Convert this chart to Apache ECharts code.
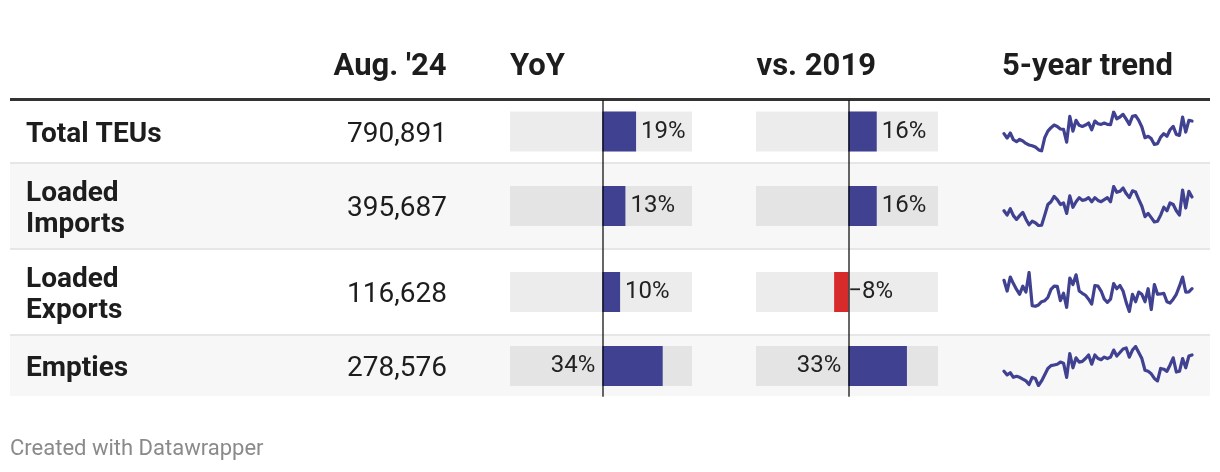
<!DOCTYPE html>
<html>
<head>
<meta charset="utf-8">
<script src="https://cdn.jsdelivr.net/npm/echarts@6/dist/echarts.min.js"></script>
<style>
  html, body { margin: 0; padding: 0; background: #ffffff; }
  #chart { width: 1220px; height: 472px; }
</style>
</head>
<body>
<div id="chart"></div>
<script>
// ---------------- DATA ----------------
const headers = ["Aug. '24", 'YoY', 'vs. 2019', '5-year trend'];
const rowNames = ['Total TEUs', 'Loaded Imports', 'Loaded Exports', 'Empties'];
const aug24 = [790891, 395687, 116628, 278576];
const yoy = [19, 13, 10, 34];          // % change year over year
const vs2019 = [16, 16, -8, 33];       // % change vs. Aug. 2019
// Monthly TEUs (thousands), Aug. 2019 – Aug. 2024, read from the sparklines
const trendTotal = [688,652,693,638,622,641,628,608,595,589,579,557,546,655,709,737,758,747,726,723,619,829,709,797,756,747,758,775,720,791,769,764,775,764,761,865,810,824,846,807,764,829,835,797,742,655,666,647,600,606,660,688,666,720,747,682,674,824,701,797,790.9];
const trendImports = [341,324,349,322,307,322,335,308,286,300,294,283,284,324,366,377,398,385,366,372,331,400,355,377,393,382,385,393,377,393,382,377,385,393,377,437,414,418,431,409,393,420,415,386,359,318,331,314,297,300,324,355,341,372,366,341,324,423,352,418,395.7];
const trendExports = [126.8,113.8,130.7,122.8,115.8,109.9,119.7,112.6,136.2,96.2,95.4,97.0,100.9,102.1,106.0,115.8,119.7,119.5,102.1,111.1,94.2,129.5,121.7,133.4,113.8,111.1,108.7,104.0,98.1,120.5,119.7,113.8,104.0,100.1,104.0,122.8,116.6,120.5,113.8,100.1,89.1,109.9,100.9,112.6,109.9,100.9,116.6,91.5,121.7,109.9,110.3,111.1,100.9,99.3,104.0,109.9,119.7,130.7,112.6,112.9,116.6];
const trendEmpties = [209.5,194.5,203.5,183.9,188.5,184.3,176.4,168.9,153.9,183.9,179.4,149.4,168.9,194.5,221.5,233.5,236.5,239.5,248.5,244.0,183.9,284.6,224.5,266.6,248.5,251.5,263.6,278.6,239.5,278.6,263.6,259.0,269.6,263.6,269.6,299.6,274.1,289.1,304.1,308.6,269.6,299.6,314.6,289.1,263.6,214.0,209.5,199.0,179.4,168.9,221.5,218.5,209.5,236.5,266.6,206.5,209.5,263.6,224.5,274.1,278.6];
const trends = [trendTotal, trendImports, trendExports, trendEmpties];
const footer = 'Created with Datawrapper';

// month labels for the trend axis
const monthNames = ['Jan','Feb','Mar','Apr','May','Jun','Jul','Aug','Sep','Oct','Nov','Dec'];
const months = [];
for (let y = 2019, m = 7; months.length < trendTotal.length; m++) {
  if (m === 12) { m = 0; y++; }
  months.push(monthNames[m] + ' ' + y);
}

// ---------------- LAYOUT ----------------
const FONT = 'Roboto';
const TEXT = '#1d1d1d';
const BLUE = '#404191';
const RED = '#d62a2b';
const ROWS = [[101, 162], [164, 248], [250, 334], [336, 396]];
const centers = ROWS.map(r => (r[0] + r[1]) / 2);
const barCols = [{ left: 510, values: yoy }, { left: 756, values: vs2019 }];
const BAR_W = 182, X_MIN = -52, X_MAX = 50.5;

const grid = [], xAxis = [], yAxis = [], series = [];
function addGrid(g) { grid.push(Object.assign({ outerBoundsMode: 'none', containLabel: false }, g)); return grid.length - 1; }

const fmtPct = v => (v < 0 ? '\u2212' + Math.abs(v) : '' + v) + '%';

barCols.forEach(col => {
  // bars, one grid per row
  ROWS.forEach((r, i) => {
    const gi = addGrid({ left: col.left, top: centers[i] - 20, width: BAR_W, height: 40 });
    xAxis.push({ type: 'value', gridIndex: gi, min: X_MIN, max: X_MAX, show: false });
    yAxis.push({ type: 'category', gridIndex: gi, data: [rowNames[i]], show: false });
    const v = col.values[i];
    const pos = v >= 30 ? 'left' : 'right';
    series.push({
      type: 'bar', xAxisIndex: xAxis.length - 1, yAxisIndex: yAxis.length - 1,
      data: [v], barWidth: '100%', z: 2,
      showBackground: true,
      backgroundStyle: { color: 'rgba(0,0,0,0.075)' },
      itemStyle: { color: v < 0 ? RED : BLUE },
      label: {
        show: true, position: pos, distance: v < 0 ? 0 : (pos === 'left' ? 7 : 5),
        formatter: p => fmtPct(p.value),
        fontFamily: FONT, fontSize: 24, color: '#222'
      }
    });
  });
  // zero line frame spanning all rows
  const gf = addGrid({ left: col.left, top: ROWS[0][0], width: BAR_W, height: ROWS[3][1] - ROWS[0][0] });
  xAxis.push({ type: 'value', gridIndex: gf, min: X_MIN, max: X_MAX, show: false });
  yAxis.push({
    type: 'category', gridIndex: gf, data: ['zero'], z: 10,
    axisLine: { show: true, onZero: true, lineStyle: { color: 'rgba(0,0,0,0.6)', width: 2 } },
    axisTick: { show: false }, axisLabel: { show: false }, splitLine: { show: false }
  });
  series.push({ type: 'bar', xAxisIndex: xAxis.length - 1, yAxisIndex: yAxis.length - 1, data: [], silent: true });
});

// sparklines
trends.forEach((t, i) => {
  const gi = addGrid({ left: 1004, top: centers[i] - 19.5, width: 188, height: 39 });
  xAxis.push({ type: 'category', gridIndex: gi, data: months, boundaryGap: false, show: false });
  yAxis.push({ type: 'value', gridIndex: gi, min: e => e.min, max: e => e.max, show: false });
  series.push({
    type: 'line', xAxisIndex: xAxis.length - 1, yAxisIndex: yAxis.length - 1,
    data: t, symbol: 'none', silent: true,
    lineStyle: { color: BLUE, width: 3.2, join: 'round', cap: 'round' }
  });
});

// table decoration and text
const graphic = [];
graphic.push({ type: 'rect', shape: { x: 10, y: 164, width: 1200, height: 84 }, style: { fill: '#f7f7f7' }, z: -10 });
graphic.push({ type: 'rect', shape: { x: 10, y: 336, width: 1200, height: 60 }, style: { fill: '#f7f7f7' }, z: -10 });
[162, 248, 334].forEach(y => graphic.push({ type: 'rect', shape: { x: 10, y: y, width: 1200, height: 2 }, style: { fill: '#e6e6e6' }, z: -9 }));
graphic.push({ type: 'rect', shape: { x: 10, y: 98, width: 1200, height: 3 }, style: { fill: '#333333' }, z: 5 });

const headerX = [446.5, 510, 756.5, 1002];
const headerAlign = ['right', 'left', 'left', 'left'];
headers.forEach((h, i) => graphic.push({
  type: 'text', x: headerX[i], y: 67,
  style: { text: h, fill: TEXT, font: 'bold 31px ' + FONT, textAlign: headerAlign[i], textVerticalAlign: 'middle' }
}));

rowNames.forEach((n, i) => {
  graphic.push({
    type: 'text', x: 26, y: centers[i] + 3,
    style: { text: n, fill: TEXT, font: 'bold 28px ' + FONT, width: 175, overflow: 'break', lineHeight: 31, textAlign: 'left', textVerticalAlign: 'middle' }
  });
  graphic.push({
    type: 'text', x: 447, y: centers[i] + 3,
    style: { text: aug24[i].toLocaleString('en-US'), fill: TEXT, font: '28px ' + FONT, textAlign: 'right', textVerticalAlign: 'middle' }
  });
});

graphic.push({ type: 'text', x: 10, y: 449, style: { text: footer, fill: '#8a8a8a', font: '22px ' + FONT, textAlign: 'left', textVerticalAlign: 'middle' } });

const chart = echarts.init(document.getElementById('chart'), null, { renderer: 'canvas' });
chart.setOption({
  animation: false,
  backgroundColor: '#ffffff',
  textStyle: { fontFamily: FONT },
  grid, xAxis, yAxis, series, graphic
});
</script>
</body>
</html>
